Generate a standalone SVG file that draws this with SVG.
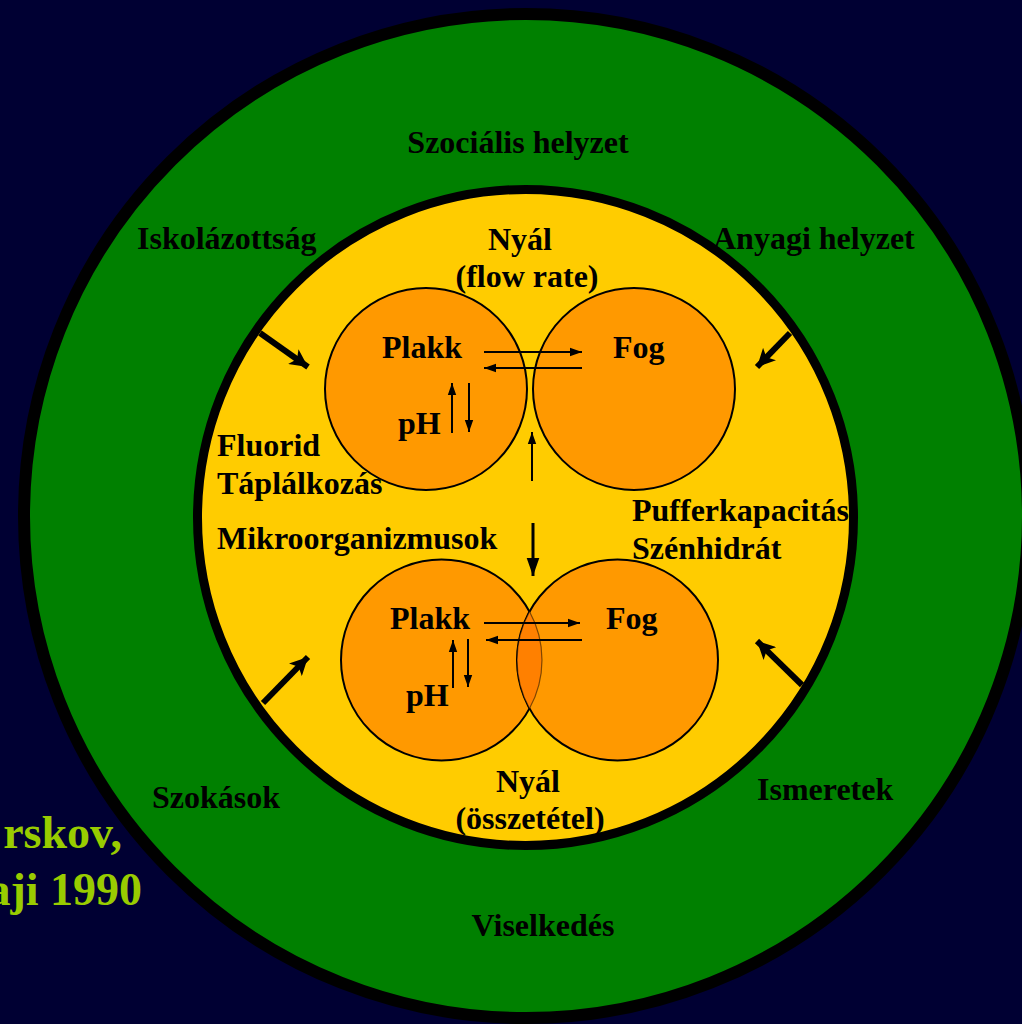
<svg xmlns="http://www.w3.org/2000/svg" width="1022" height="1024" viewBox="0 0 1022 1024">
<defs>
<style>
.t{font-family:"Liberation Serif","Times New Roman",serif;font-weight:bold;font-size:32px;fill:#000}
.c{text-anchor:middle}
.ref{font-family:"Liberation Serif","Times New Roman",serif;font-weight:bold;font-size:46px;fill:#99CC00;text-anchor:end}
.orb{fill:#FF9900;stroke:#000;stroke-width:2}
.thin{stroke:#000;stroke-width:2;fill:none}
.thick{stroke:#000;stroke-width:6;fill:none}
</style>
<marker id="ah" viewBox="0 0 10 10" refX="10" refY="5" markerWidth="6" markerHeight="6" markerUnits="strokeWidth" orient="auto"><path d="M0,1.5 L10,5 L0,8.5 Z" fill="#000"/></marker>
<marker id="ahb" viewBox="0 0 10 10" refX="10" refY="5" markerWidth="3" markerHeight="3" markerUnits="strokeWidth" orient="auto"><path d="M0,0 L10,5 L0,10 L2.5,5 Z" fill="#000"/></marker>
</defs>
<rect width="1022" height="1024" fill="#000033"/>
<g id="outer-ring">
<circle cx="526" cy="516" r="502" fill="#008000" stroke="#000" stroke-width="12"/>
</g>
<g id="inner-ring">
<circle cx="525.5" cy="517.5" r="328" fill="#FFCC00" stroke="#000" stroke-width="9"/>
</g>
<g id="top-plakk"><circle class="orb" cx="426" cy="389" r="101"/></g>
<g id="top-fog"><circle class="orb" cx="634" cy="389" r="101"/></g>
<g id="bottom-plakk"><circle class="orb" cx="441.5" cy="660" r="100.5"/></g>
<g id="bottom-fog"><circle class="orb" cx="617.5" cy="660" r="100.5"/></g>
<g id="overlap"><path d="M529.5,611.5 A100.5,100.5 0 0 1 529.5,708.5 A100.5,100.5 0 0 1 529.5,611.5 Z" fill="#FF8000" stroke="#000" stroke-width="1.2" stroke-opacity="0.5"/></g>
<g id="connectors">
<line class="thick" x1="260" y1="333" x2="308" y2="367" marker-end="url(#ahb)"/>
<line class="thick" x1="790" y1="333" x2="757" y2="367" marker-end="url(#ahb)"/>
<line class="thick" x1="263" y1="703" x2="308" y2="657" marker-end="url(#ahb)"/>
<line class="thick" x1="802" y1="685" x2="757" y2="641" marker-end="url(#ahb)"/>
<line class="thin" x1="484" y1="352" x2="582" y2="352" marker-end="url(#ah)"/>
<line class="thin" x1="582" y1="368" x2="484" y2="368" marker-end="url(#ah)"/>
<line class="thin" x1="452" y1="433" x2="452" y2="383" marker-end="url(#ah)"/>
<line class="thin" x1="469" y1="383" x2="469" y2="432" marker-end="url(#ah)"/>
<line class="thin" x1="532" y1="481" x2="532" y2="432" marker-end="url(#ah)"/>
<line stroke="#000" stroke-width="3" x1="533" y1="523" x2="533" y2="576" marker-end="url(#ah)"/>
<line class="thin" x1="484" y1="623" x2="580" y2="623" marker-end="url(#ah)"/>
<line class="thin" x1="582" y1="640" x2="486" y2="640" marker-end="url(#ah)"/>
<line class="thin" x1="453" y1="688" x2="453" y2="640" marker-end="url(#ah)"/>
<line class="thin" x1="468" y1="639" x2="468" y2="687" marker-end="url(#ah)"/>
</g>
<g id="labels">
<text class="t c" x="518" y="153">Szociális helyzet</text>
<text class="t" x="137" y="249">Iskolázottság</text>
<text class="t" x="713" y="249">Anyagi helyzet</text>
<text class="t c" x="520" y="250">Nyál</text>
<text class="t c" x="527" y="287">(flow rate)</text>
<text class="t" x="382" y="358">Plakk</text>
<text class="t" x="613" y="358">Fog</text>
<text class="t" x="398" y="434">pH</text>
<text class="t" x="217" y="456">Fluorid</text>
<text class="t" x="217" y="494">Táplálkozás</text>
<text class="t" x="217" y="549">Mikroorganizmusok</text>
<text class="t" x="632" y="521">Pufferkapacitás</text>
<text class="t" x="632" y="559">Szénhidrát</text>
<text class="t" x="390" y="629">Plakk</text>
<text class="t" x="606" y="629">Fog</text>
<text class="t" x="406" y="706">pH</text>
<text class="t c" x="528" y="792">Nyál</text>
<text class="t c" x="530" y="829">(összetétel)</text>
<text class="t" x="152" y="808">Szokások</text>
<text class="t" x="757" y="800">Ismeretek</text>
<text class="t c" x="543" y="936">Viselkedés</text>
<text class="ref" x="122" y="848">rskov,</text>
<text class="ref" x="142" y="905">aji 1990</text>
</g>
</svg>
